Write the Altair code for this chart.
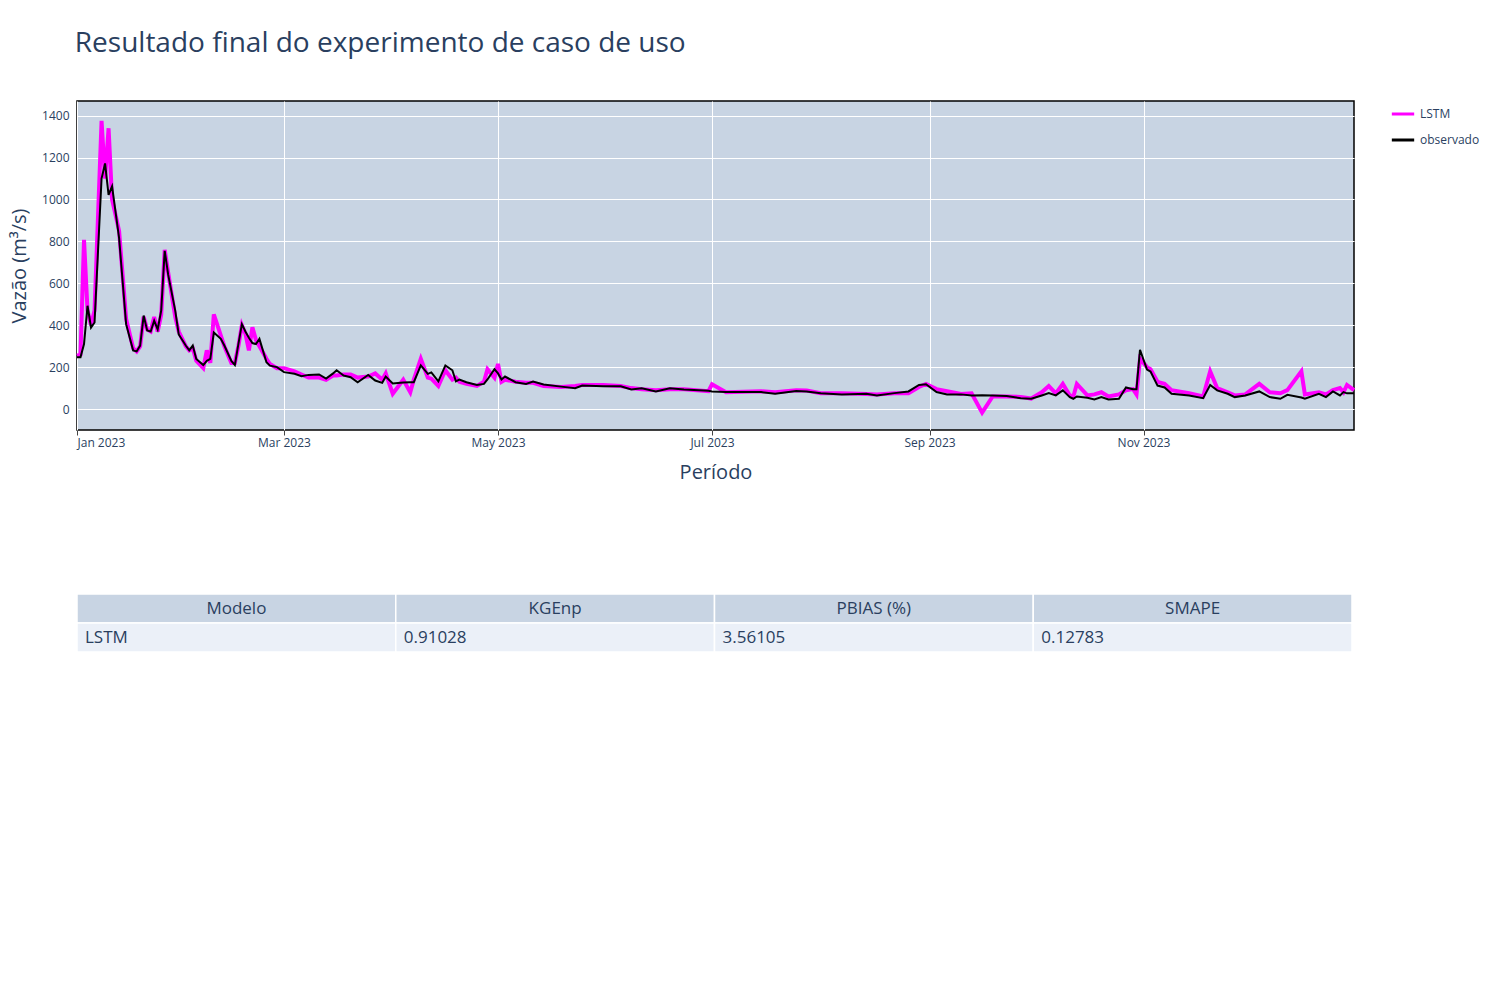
import pandas as pd
import altair as alt

days = [0, 1, 2, 3, 4, 5, 7, 8, 9, 10, 12, 14, 16, 17, 18, 19, 20, 21, 22, 23, 24, 25, 26, 28, 29,
        31, 32, 33, 34, 36, 37, 38, 39, 41, 42, 44, 45, 46, 47, 48, 49, 50, 51, 52, 54, 55, 57, 59,
        62, 64, 66, 69, 71, 73, 74, 76, 78, 80, 83, 85, 87, 88, 90, 93, 95, 96, 98, 100, 101, 103,
        105, 107, 108, 109, 111, 114, 116, 117, 119, 120, 121, 122, 125, 128, 130, 133, 138, 142,
        144, 150, 155, 158, 161, 165, 169, 173, 180, 181, 185, 195, 199, 205, 208, 212, 218, 225,
        228, 233, 237, 240, 242, 245, 248, 252, 255, 258, 261, 265, 269, 272, 275, 277, 279, 281,
        283, 284, 285, 288, 290, 292, 294, 297, 299, 301, 302, 303, 305, 306, 308, 310, 312, 317,
        321, 323, 325, 328, 330, 333, 337, 340, 343, 345, 349, 350, 354, 356, 358, 360, 361, 362, 364]
observado = [247, 247, 310, 493, 389, 413, 1100, 1172, 1022, 1063, 816, 405, 280, 275, 303, 446, 375,
             370, 422, 380, 470, 755, 640, 470, 356, 303, 280, 303, 239, 210, 230, 239, 365, 335,
             303, 230, 210, 310, 405, 370, 340, 315, 310, 335, 223, 207, 200, 176, 168, 157, 163,
             165, 145, 170, 185, 160, 152, 128, 163, 136, 125, 155, 122, 127, 128, 128, 208, 168,
             175, 132, 208, 185, 132, 141, 128, 115, 120, 141, 190, 170, 141, 155, 128, 120, 131,
             117, 107, 99, 112, 109, 109, 93, 99, 84, 99, 93, 87, 84, 81, 81, 73, 86, 84, 75, 70,
             73, 65, 76, 84, 115, 118, 81, 70, 70, 65, 66, 65, 62, 52, 49, 65, 76, 65, 89, 57, 49,
             60, 54, 46, 57, 46, 49, 103, 95, 95, 283, 188, 179, 112, 103, 73, 65, 52, 115, 89, 73,
             57, 65, 84, 57, 49, 68, 55, 49, 73, 57, 84, 65, 81, 75, 75]
lstm = [255, 260, 808, 470, 400, 470, 1375, 1100, 1340, 1000, 850, 430, 290, 275, 300, 440, 380, 370,
        440, 370, 450, 760, 650, 440, 370, 300, 280, 290, 230, 195, 280, 220, 452, 350, 300, 220,
        220, 300, 400, 360, 280, 390, 330, 300, 240, 215, 195, 195, 180, 165, 150, 150, 140, 160,
        160, 165, 165, 150, 155, 170, 140, 170, 73, 140, 80, 140, 240, 150, 145, 110, 185, 140,
        150, 130, 120, 110, 130, 190, 150, 215, 130, 140, 130, 125, 125, 110, 105, 110, 115, 115,
        110, 100, 95, 90, 95, 95, 85, 118, 80, 85, 80, 90, 88, 75, 75, 72, 70, 75, 75, 105, 120,
        95, 85, 72, 75, -17, 60, 60, 58, 50, 80, 110, 75, 120, 65, 60, 120, 65, 70, 80, 60, 70,
        90, 95, 70, 240, 200, 190, 130, 120, 90, 75, 60, 180, 100, 80, 65, 70, 120, 80, 75, 90,
        180, 70, 80, 70, 90, 100, 80, 115, 90]

modelos = ["LSTM"]
kgenp = ["0.91028"]
pbias = ["3.56105"]
smape = ["0.12783"]
colunas = ["Modelo", "KGEnp", "PBIAS (%)", "SMAPE"]

datas = pd.Timestamp("2023-01-01") + pd.to_timedelta(days, unit="D")
df = pd.concat([
    pd.DataFrame({"data": datas, "vazao": lstm, "serie": "LSTM"}),
    pd.DataFrame({"data": datas, "vazao": observado, "serie": "observado"}),
])

font = "Open Sans"
cor_texto = "#2a3f5f"
color = alt.Color("serie:N", title=None,
                  scale=alt.Scale(domain=["LSTM", "observado"], range=["#ff00ff", "black"]),
                  legend=alt.Legend(orient="right", symbolType="stroke", symbolStrokeWidth=3,
                                    symbolSize=500, rowPadding=7,
                                    labelFont=font, labelFontSize=12, labelColor=cor_texto,
                                    offset=28, padding=0))

tick_vals = [alt.DateTime(year=2023, month=m, date=1) for m in [1, 3, 5, 7, 9, 11]]
x = alt.X("data:T", title="Período",
          scale=alt.Scale(domain=[alt.DateTime(year=2023, month=1, date=1),
                                  alt.DateTime(year=2023, month=12, date=31)]),
          axis=alt.Axis(values=tick_vals, format="%b %Y", labelFontSize=12, titleFontSize=20,
                        titleFontWeight="normal", titleColor=cor_texto, labelColor=cor_texto,
                        titlePadding=14, gridColor="white", tickColor="#444", domain=False))
y = alt.Y("vazao:Q", title="Vazão (m³/s)",
          scale=alt.Scale(domain=[-100, 1470], nice=False),
          axis=alt.Axis(values=list(range(0, 1401, 200)), format="d", labelFontSize=12,
                        titleFontSize=20, titleFontWeight="normal", titleColor=cor_texto,
                        labelColor=cor_texto, gridColor="white", ticks=False, labelPadding=8,
                        domain=False, titlePadding=12))

base = alt.Chart(df)
linha_lstm = base.transform_filter(alt.datum.serie == "LSTM").mark_line(strokeWidth=4).encode(
    x=x, y=y, color=color)
linha_obs = base.transform_filter(alt.datum.serie == "observado").mark_line(strokeWidth=2).encode(
    x=x, y=y, color=color)
grafico = (linha_lstm + linha_obs).properties(
    width=1277, height=329,
    view=alt.ViewBackground(fill="#c8d4e3", stroke="black", strokeWidth=1.5))

# table
cells = []
linhas = [colunas] + [[modelos[i], kgenp[i], pbias[i], smape[i]] for i in range(len(modelos))]
for r, linha in enumerate(linhas):
    for c, txt in enumerate(linha):
        cells.append({"c0": c, "c1": c + 1, "row": r, "txt": txt, "header": r == 0})
tdf = pd.DataFrame(cells)
tx = alt.Scale(domain=[0, 4])
ty = alt.Scale(domain=[-0.5, 1.5], reverse=True)
tbase = alt.Chart(tdf)
rects = tbase.transform_calculate(r0="datum.row - 0.5", r1="datum.row + 0.5").mark_rect(
    stroke="white", strokeWidth=1.5).encode(
    x=alt.X("c0:Q", scale=tx, axis=None), x2="c1:Q",
    y=alt.Y("r0:Q", scale=ty, axis=None), y2="r1:Q",
    color=alt.Color("header:N", scale=alt.Scale(domain=[True, False], range=["#c8d4e3", "#ebf0f8"]),
                    legend=None))
head_txt = tbase.transform_filter(alt.datum.header).transform_calculate(
    cm="datum.c0 + 0.5").mark_text(font=font, fontSize=17, color=cor_texto).encode(
    x=alt.X("cm:Q", scale=tx, axis=None), y=alt.Y("row:Q", scale=ty, axis=None), text="txt:N")
body_txt = tbase.transform_filter(~alt.datum.header).mark_text(
    font=font, fontSize=17, color=cor_texto, align="left", dx=8).encode(
    x=alt.X("c0:Q", scale=tx, axis=None), y=alt.Y("row:Q", scale=ty, axis=None), text="txt:N")
tabela = (rects + head_txt + body_txt).properties(
    width=1275, height=58, view=alt.ViewBackground(fill="white", strokeWidth=0))

chart = alt.vconcat(grafico, tabela, spacing=110).resolve_scale(
    color="independent", x="independent", y="independent"
).properties(
    padding={"left": 0, "top": 22, "right": 5, "bottom": 5},
    title=alt.TitleParams("Resultado final do experimento de caso de uso", anchor="start",
                          font=font, fontSize=28, fontWeight="normal", color=cor_texto,
                          offset=42, dx=66)
).configure(font=font)

chart.save("out.html", embed_options={"renderer": "svg", "actions": False})
